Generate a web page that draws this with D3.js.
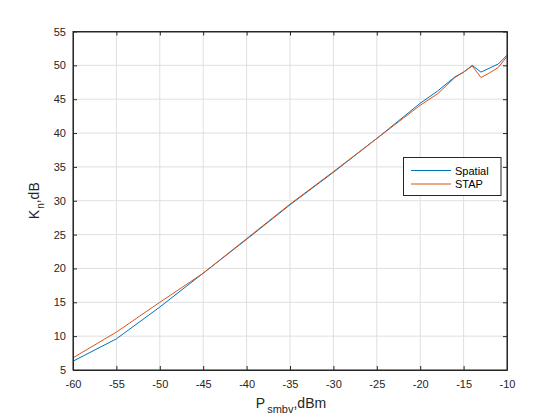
<!DOCTYPE html>
<html><head><meta charset="utf-8">
<script src="https://cdn.jsdelivr.net/npm/d3@7/dist/d3.min.js"></script>
<style>body{margin:0;background:#fff;} svg{display:block;font-family:"Liberation Sans",Arial,sans-serif;}</style>
</head><body>
<script>
const xVals      = [-60, -55, -50, -45, -40, -35, -30, -25, -20, -18, -16, -15, -14, -13, -12, -11, -10];
const spatialVal = [6.3, 9.6, 14.3, 19.3, 24.3, 29.4, 34.2, 39.2, 44.4, 46.2, 48.3, 49.0, 50.0, 49.0, 49.6, 50.2, 51.5];
const stapVal    = [6.8, 10.6, 15.0, 19.3, 24.4, 29.5, 34.3, 39.2, 44.1, 45.8, 48.2, 49.0, 49.9, 48.2, 48.9, 49.7, 51.3];
const xTicks = [-60, -55, -50, -45, -40, -35, -30, -25, -20, -15, -10];
const yTicks = [5, 10, 15, 20, 25, 30, 35, 40, 45, 50, 55];
const seriesNames = ["Spatial", "STAP"];
const colors = ["#0072BD", "#D95319"];

const W = 560, H = 420;
const L = 73, R = 507, T = 31.5, B = 370;
const svg = d3.select("body").append("svg").attr("width", W).attr("height", H);
const x = d3.scaleLinear().domain([-60, -10]).range([L, R]);
const y = d3.scaleLinear().domain([5, 55]).range([B, T]);
const fmt = d => String(d);

// grid
const g = svg.append("g");
g.selectAll(".gx").data(xTicks).enter().append("line")
  .attr("x1", d => x(d)).attr("x2", d => x(d)).attr("y1", T).attr("y2", B)
  .attr("stroke", "#dfdfdf").attr("stroke-width", 1);
g.selectAll(".gy").data(yTicks).enter().append("line")
  .attr("y1", d => y(d)).attr("y2", d => y(d)).attr("x1", L).attr("x2", R)
  .attr("stroke", "#dfdfdf").attr("stroke-width", 1);

// lines
const series = [spatialVal, stapVal];
const line = d3.line().x(d => x(d[0])).y(d => y(d[1]));
series.forEach((s, i) => {
  svg.append("path").datum(xVals.map((v, j) => [v, s[j]]))
    .attr("d", line).attr("fill", "none").attr("stroke", colors[i]).attr("stroke-width", 1);
});

// axes (ticks inward)
const xb = d3.axisBottom(x).tickValues(xTicks).tickSizeInner(-4).tickSizeOuter(0).tickPadding(10).tickFormat(fmt);
const xt = d3.axisTop(x).tickValues(xTicks).tickSizeInner(-4).tickSizeOuter(0).tickFormat("");
const yl = d3.axisLeft(y).tickValues(yTicks).tickSizeInner(-4).tickSizeOuter(0).tickPadding(7).tickFormat(fmt);
const yr = d3.axisRight(y).tickValues(yTicks).tickSizeInner(-4).tickSizeOuter(0).tickFormat("");
[[xb, `translate(0,${B})`], [xt, `translate(0,${T})`], [yl, `translate(${L},0)`], [yr, `translate(${R},0)`]].forEach(([a, tr]) => {
  const gg = svg.append("g").attr("transform", tr).call(a);
  gg.selectAll("path").attr("stroke", "#262626");
  gg.selectAll("line").attr("stroke", "#262626");
  gg.selectAll("text").attr("fill", "#262626").attr("font-size", 11).attr("font-family", "Liberation Sans, Arial, sans-serif");
});
svg.append("rect").attr("x", L).attr("y", T).attr("width", R - L).attr("height", B - T)
  .attr("fill", "none").attr("stroke", "#262626").attr("stroke-width", 1);

// axis labels
const xl = svg.append("text").attr("x", (L + R) / 2 + 1).attr("y", 408).attr("text-anchor", "middle")
  .attr("font-size", 14).attr("fill", "#262626");
xl.append("tspan").text("P");
xl.append("tspan").attr("font-size", 11).attr("dx", 2).attr("dy", 5).text("smbv");
xl.append("tspan").attr("dy", -5).text(",dBm");

const ylab = svg.append("text").attr("transform", `translate(39,${(T + B) / 2}) rotate(-90)`)
  .attr("text-anchor", "middle").attr("font-size", 14).attr("fill", "#262626");
ylab.append("tspan").text("K");
ylab.append("tspan").attr("font-size", 10).attr("dx", 1).attr("dy", 5).text("n");
ylab.append("tspan").attr("dy", -5).text(",dB");

// legend
const lg = svg.append("g");
lg.append("rect").attr("x", 403.5).attr("y", 157.5).attr("width", 97.5).attr("height", 38)
  .attr("fill", "#fff").attr("stroke", "#262626").attr("stroke-width", 1);
seriesNames.forEach((n, i) => {
  const yy = 170.5 + i * 13.5;
  lg.append("line").attr("x1", 411).attr("x2", 451).attr("y1", yy).attr("y2", yy)
    .attr("stroke", colors[i]).attr("stroke-width", 1);
  lg.append("text").attr("x", 455).attr("y", yy + 4).attr("font-size", 11).attr("fill", "#000").text(n);
});
</script>
</body></html>
